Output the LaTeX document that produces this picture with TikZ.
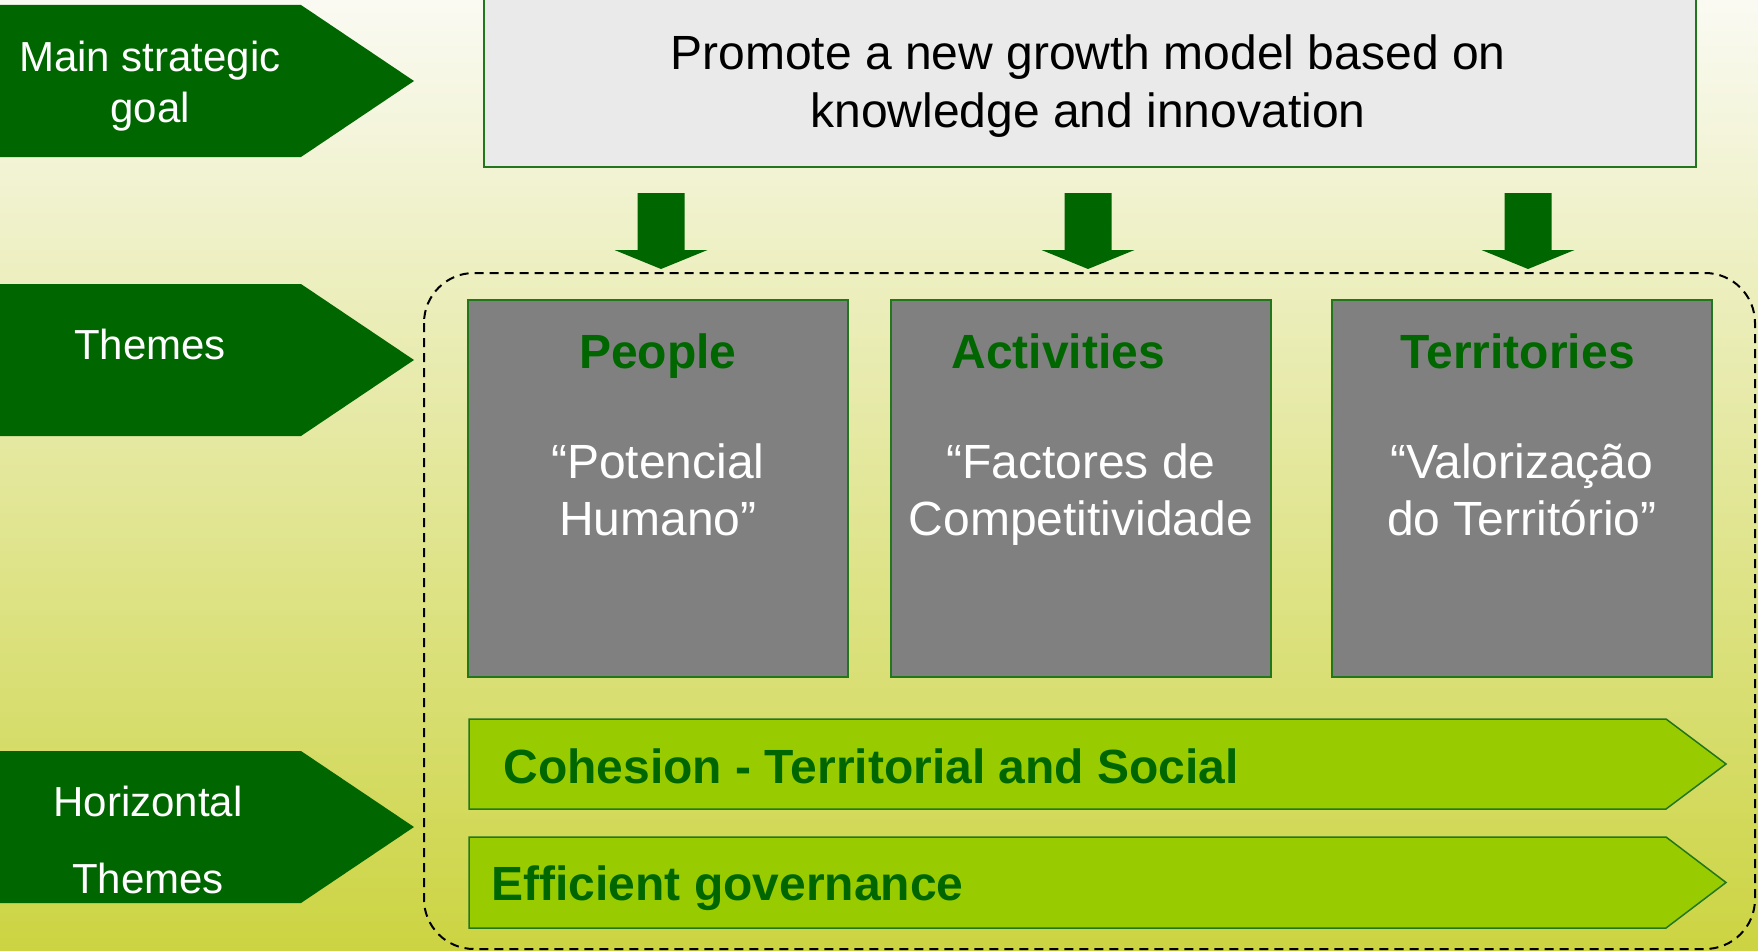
\documentclass[tikz,border=0pt]{standalone}
\usepackage{fontspec}
\setmainfont{Liberation Sans}
\usetikzlibrary{positioning}
\definecolor{darkgreen}{RGB}{0,102,0}
\definecolor{edgegreen}{RGB}{34,118,28}
\definecolor{limegreen}{RGB}{153,204,0}
\definecolor{boxgray}{RGB}{128,128,128}
\definecolor{goalgray}{RGB}{234,234,234}
\definecolor{bgtop}{RGB}{250,250,243}
\definecolor{bgmid}{RGB}{229,232,172}
\definecolor{bgbottom}{RGB}{204,212,66}

\begin{document}
\begin{tikzpicture}[x=1pt, y=-1pt,
    sidearrow/.style={fill=darkgreen},
    sidetext/.style={white, align=center, anchor=base, font=\fontsize{42}{51}\selectfont},
    goalbox/.style={draw=edgegreen, fill=goalgray, line width=1.5pt, minimum width=1212pt, minimum height=180pt, anchor=north west},
    goaltext/.style={black, align=center, anchor=base, font=\fontsize{48}{58}\selectfont},
    themebox/.style={draw=edgegreen, fill=boxgray, line width=1.5pt, minimum width=380pt, minimum height=377pt, anchor=north west},
    themetitle/.style={darkgreen, anchor=base, font=\fontsize{48}{57}\selectfont\bfseries},
    themequote/.style={white, align=center, anchor=base, font=\fontsize{48}{57}\selectfont},
    blockarrow/.style={fill=darkgreen},
    frame/.style={dash pattern=on 9pt off 6pt, line width=2pt, rounded corners=50pt},
    hbar/.style={fill=limegreen, draw=edgegreen, line width=1.5pt},
    bartext/.style={darkgreen, anchor=base west, font=\fontsize{48}{57}\selectfont\bfseries}
]

% Background
\useasboundingbox (0,0) rectangle (1758,950);
\shade[top color=bgtop, middle color=bgmid, bottom color=bgbottom] (0,0) rectangle (1758,950);

% Left labels
\foreach \y in {5,284,751} {
    \fill[sidearrow] (0,\y) -- (301,\y) -- (414,\y+76) -- (301,\y+152) -- (0,\y+152) -- cycle;
}
\node[sidetext] (goallabel) at (150,122) {Main strategic\\goal};
\node[sidetext] (themeslabel) at (150,359) {Themes};
\node[sidetext, font=\fontsize{42}{77}\selectfont] (horizlabel) at (148,893) {Horizontal\\Themes};

% Main goal
\node[goalbox] (goal) at (483,-14) {};
\node[goaltext] (goaltxt) at (1088,127) {Promote a new growth model based on\\knowledge and innovation};

% Arrows down
\foreach \x in {661,1088,1528} {
    \fill[blockarrow] (\x-23.5,193) -- (\x+23.5,193) -- (\x+23.5,250) -- (\x+46.5,250)
        -- (\x,269) -- (\x-46.5,250) -- (\x-23.5,250) -- cycle;
}

% Dashed frame
\draw[frame] (424,273) rectangle (1755,949);

% Themes
\node[themebox] (people) at (467,299) {};
\node[themebox] (activities) at (890,299) {};
\node[themebox] (territories) at (1331,299) {};

\node[themetitle] (peopletitle) at ([yshift=-69pt]people.north) {People};
\node[themetitle, anchor=base west] (activitiestitle) at ([xshift=58pt,yshift=-69pt]activities.north west) {Activities};
\node[themetitle] (territoriestitle) at ([xshift=-4pt,yshift=-69pt]territories.north) {Territories};

\node[themequote] (peoplequote) at ([yshift=-236pt]people.north) {“Potencial\\Humano”};
\node[themequote] (activitiesquote) at ([yshift=-236pt]activities.north) {“Factores de\\Competitividade};
\node[themequote] (territoriesquote) at ([yshift=-236pt]territories.north) {“Valorização\\do Território”};

% Horizontal themes
\draw[hbar] (469,719) -- (1666,719) -- (1726,764) -- (1666,809) -- (469,809) -- cycle;
\draw[hbar] (469,837) -- (1666,837) -- (1726,882.5) -- (1666,928) -- (469,928) -- cycle;
\node[bartext] (cohesion) at (500,783) {Cohesion - Territorial and Social};
\node[bartext] (governance) at (488,900) {Efficient governance};

\end{tikzpicture}
\end{document}
